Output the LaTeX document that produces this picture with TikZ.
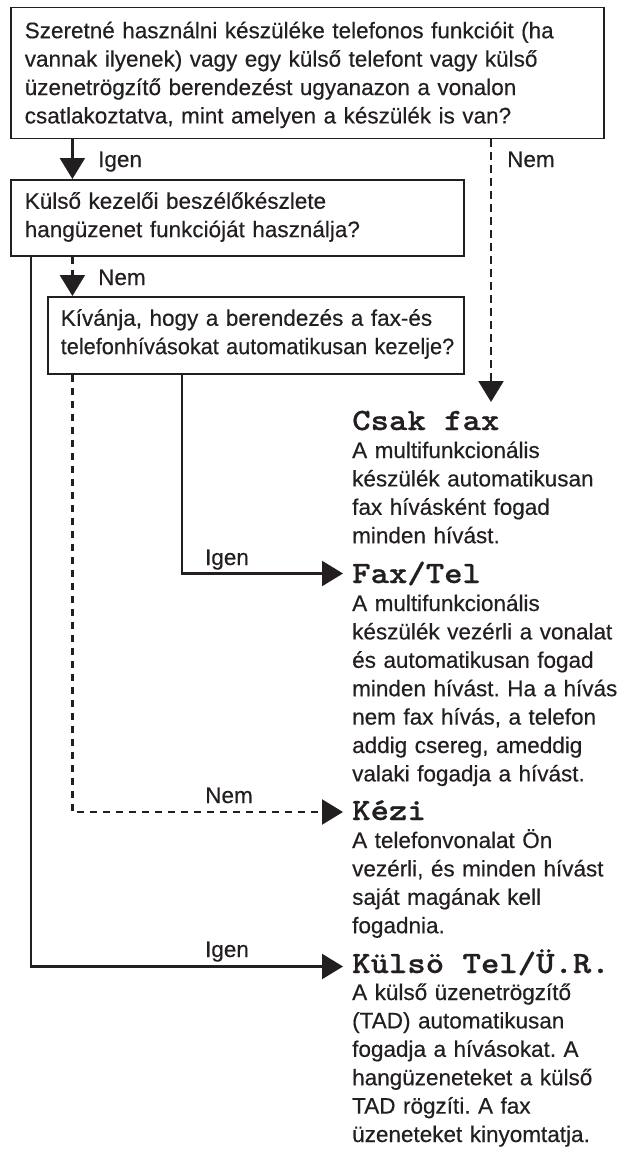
\documentclass[tikz,border=0pt]{standalone}
\usepackage{fontspec}
\setmainfont{Liberation Sans}[FakeBold=0.4]
\newfontfamily\headfont{lmmonolt10-bold.otf}[FakeBold=0.6]
\usetikzlibrary{arrows.meta}
\definecolor{ink}{RGB}{35,31,32}
\newcommand{\hd}[1]{\scalebox{1.13}[1]{#1}}
\begin{document}
\frenchspacing
\begin{tikzpicture}[x=1pt,y=-1pt,
  every node/.style={text=ink, font=\frenchspacing\fontsize{22.5}{28.4}\selectfont, inner sep=0pt},
  qbox/.style={draw=ink, line width=1.5pt, rectangle, anchor=north west, align=left, inner ysep=0pt},
  head/.style={anchor=base west, font=\fontsize{31}{34}\selectfont\headfont},
  desc/.style={anchor=base west, align=left, text width=275pt},
  lbl/.style={anchor=base west},
  clbl/.style={anchor=base},
  conn/.style={draw=ink, line width=2.3pt},
  tip/.style={-{Triangle[length=21pt,width=25pt]}},
  dsh/.style={dash pattern=on 7.5pt off 5.5pt}
]
\useasboundingbox (0,0) rectangle (629,1153);

% question boxes
\node[qbox, inner xsep=14pt, text width=565pt, text height=30.5pt, text depth=100pt] (q1) at (10,7)
  {\mbox{Szeretné használni készüléke telefonos funkcióit (ha}\\
   \mbox{vannak ilyenek) vagy egy külső telefont vagy külső}\\
   \mbox{üzenetrögzítő berendezést ugyanazon a vonalon}\\
   \mbox{csatlakoztatva, mint amelyen a készülék is van?}};
\node[qbox, inner xsep=14pt, text width=425pt, text height=29pt, text depth=47pt] (q2) at (10,179)
  {\mbox{Külső kezelői beszélőkészlete}\\
   \mbox{hangüzenet funkcióját használja?}};
\node[qbox, inner xsep=13pt, text width=390pt, text height=29pt, text depth=48pt] (q3) at (47,296)
  {\mbox{Kívánja, hogy a berendezés a fax-és}\\
   \scalebox{0.965}[1]{telefonhívásokat automatikusan kezelje?}};

% results
\node[head] (hcsak) at (352,430) {\hd{Csak fax}};
\node[desc] (dcsak) at (352,458) {A multifunkcionális\\készülék automatikusan\\fax hívásként fogad\\minden hívást.};
\node[head] (hfax) at (352,583) {\hd{Fax/Tel}};
\node[desc] (dfax) at (352,611) {A multifunkcionális\\készülék vezérli a vonalat\\és automatikusan fogad\\minden hívást. Ha a hívás\\nem fax hívás, a telefon\\addig csereg, ameddig\\valaki fogadja a hívást.};
\node[head] (hkezi) at (352,820) {\hd{Kézi}};
\node[desc] (dkezi) at (352,848) {A telefonvonalat Ön\\vezérli, és minden hívást\\saját magának kell\\fogadnia.};
\node[head] (hkulso) at (352,973) {\hd{Külsö Tel/Ü.R.}};
\node[desc] (dkulso) at (352,1000) {A külső üzenetrögzítő\\(TAD) automatikusan\\fogadja a hívásokat. A\\hangüzeneteket a külső\\TAD rögzíti. A fax\\üzeneteket kinyomtatja.};

\coordinate (csaktip) at (491,402);

% connectors
\draw[conn,tip] (72.4,0 |- q1.south) -- (72.4,0 |- q2.north);
\node[lbl] (l1) at (98,167) {Igen};
\draw[conn,dsh,tip] (491,0 |- q1.south) -- (csaktip);
\node[lbl] (l2) at (507,167) {Nem};
\draw[conn,dsh,tip] (72.4,0 |- q2.south) -- (72.4,0 |- q3.north);
\node[lbl] (l3) at (98,285) {Nem};
\draw[conn,tip] (182,0 |- q3.south) |- ([xshift=-9pt,yshift=9.5pt]hfax.base west);
\node[clbl] (l4) at (227,565) {Igen};
\draw[conn,dsh,tip] (72.4,0 |- q3.south) |- ([xshift=-9pt,yshift=8pt]hkezi.base west);
\node[clbl] (l5) at (229,803) {Nem};
\draw[conn,tip] (31.2,0 |- q2.south) |- ([xshift=-9pt,yshift=6.5pt]hkulso.base west);
\node[clbl] (l6) at (227,957) {Igen};
\end{tikzpicture}
\end{document}
